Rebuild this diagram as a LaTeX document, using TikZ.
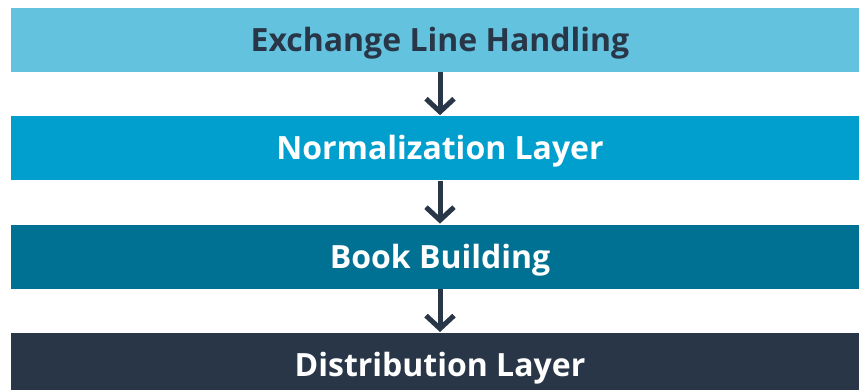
\documentclass[tikz,border=0pt]{standalone}
\usepackage{fontspec}
\setmainfont{Open Sans}
\usepackage{xcolor}
\usepackage{tikz}
\usetikzlibrary{arrows.meta,positioning}

\definecolor{lineblue}{HTML}{63C2DE}
\definecolor{normblue}{HTML}{009FCD}
\definecolor{bookblue}{HTML}{007093}
\definecolor{distnavy}{HTML}{293647}

\begin{document}
\begin{tikzpicture}[
    x=1pt, y=1pt,
    node distance=44pt,
    bar/.style={rectangle, inner sep=0pt, minimum height=64pt, minimum width=858pt, text height=23pt, text depth=0pt, font=\fontsize{32}{36}\selectfont\bfseries, text=white},
    arr/.style={-{Straight Barb[length=13pt,width=28pt]}, line width=5pt, draw=distnavy, shorten >=1pt}
]
    \useasboundingbox (0,0) rectangle (859,390);
    \node [bar, fill=lineblue, text=distnavy] (n1) at (440,350) {Exchange Line Handling};
    \node [bar, fill=normblue, below=of n1] (n2) {Normalization Layer};
    \node [bar, fill=bookblue, below=of n2] (n3) {Book Building};
    \node [bar, fill=distnavy, below=of n3] (n4) {Distribution Layer};

    \draw [arr] (n1) -- (n2);
    \draw [arr] (n2) -- (n3);
    \draw [arr] (n3) -- (n4);
\end{tikzpicture}
\end{document}
